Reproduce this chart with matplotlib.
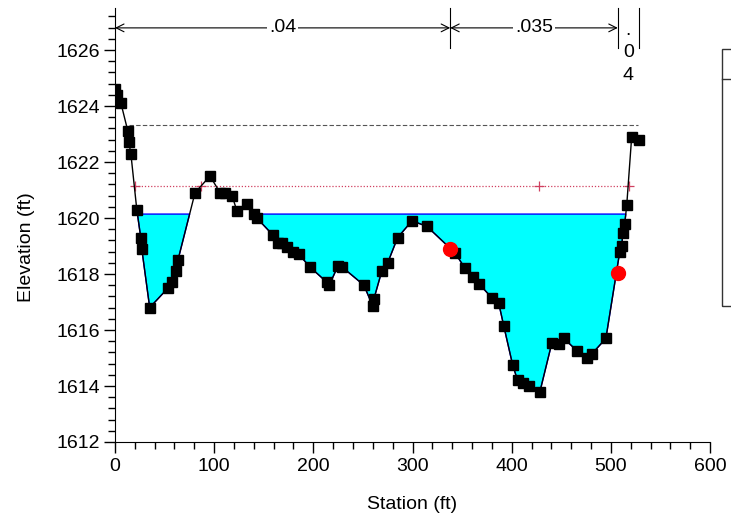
import numpy as np
import matplotlib.pyplot as plt
from matplotlib.patches import Rectangle
from matplotlib.lines import Line2D

plt.rcParams['font.family'] = ['Liberation Sans', 'DejaVu Sans']

# Perfil del terreno (estación, elevación)
estacion = [0, 2, 6, 13, 14, 16, 22, 26, 27, 35, 53.5, 57.5, 61.5, 63.5, 80.7,
            95.8, 106, 111, 118, 123, 133, 140, 143, 159, 164, 168, 173, 179.5,
            185.5, 196.6, 213.8, 216, 225, 229, 251, 260, 261, 269, 275, 285,
            299.5, 314.6, 343, 353, 361, 367, 380, 387, 392, 401, 406, 411,
            417.5, 428.5, 440.6, 447.7, 452.7, 466, 476, 481, 495, 509, 511,
            512, 514, 516, 521, 528]
elevacion = [1624.6, 1624.4, 1624.1, 1623.1, 1622.7, 1622.3, 1620.3, 1619.3,
             1618.9, 1616.8, 1617.5, 1617.7, 1618.1, 1618.5, 1620.9, 1621.5,
             1620.9, 1620.9, 1620.8, 1620.25, 1620.5, 1620.15, 1620.0, 1619.4,
             1619.1, 1619.1, 1618.95, 1618.8, 1618.7, 1618.25, 1617.7, 1617.6,
             1618.3, 1618.25, 1617.6, 1616.85, 1617.1, 1618.1, 1618.4, 1619.3,
             1619.9, 1619.7, 1618.75, 1618.2, 1617.9, 1617.65, 1617.15,
             1616.95, 1616.15, 1614.75, 1614.2, 1614.1, 1614.0, 1613.8,
             1615.55, 1615.5, 1615.7, 1615.25, 1615.0, 1615.15, 1615.7,
             1618.8, 1619.0, 1619.45, 1619.8, 1620.45, 1622.9, 1622.8]

# Estaciones de margen (bank stations)
margen_est = [338, 507]
margen_elev = [1618.9, 1618.05]

ws = 1620.14          # superficie del agua
eg = 1623.32          # línea de energía
eg_rango = [14, 527]
crit = 1621.14        # línea punteada roja
crit_est = [20, 87, 428, 518]

# Coeficientes de Manning
n_limites = [0, 338, 507, 528]
n_valores = ['.04', '.035', '.04']

x = np.array(estacion)
z = np.array(elevacion)

fig = plt.figure(figsize=(7.31, 5.2), dpi=100)
ax = fig.add_axes([0.1573, 0.15, 0.814, 0.8346])

# Agua
ax.fill_between(x, z, ws, where=z < ws, interpolate=True,
                facecolor='#00FFFF', edgecolor='#0000FF', linewidth=1.0, zorder=2)

# Líneas horizontales
ax.plot(eg_rango, [eg, eg], color='#555555', linestyle=(0, (4, 2)), linewidth=0.8, zorder=3)
ax.plot([crit_est[0], crit_est[-1]], [crit, crit], color='#D04060',
        linestyle=(0, (1, 1.5)), linewidth=0.9, zorder=3)
ax.plot(crit_est, [crit] * len(crit_est), linestyle='none', marker='+',
        color='#D04060', markersize=7, markeredgewidth=0.9, zorder=3)

# Terreno
ax.plot(x, z, color='black', linewidth=1.0, marker='s', markersize=6.8, zorder=4)
ax.plot(margen_est, margen_elev, linestyle='none', marker='o', color='#FF0000',
        markersize=10, zorder=5)

ax.set_xlim(0, 600)
ax.set_ylim(1612, 1627.5)
ax.set_xticks(np.arange(0, 601, 100))
ax.set_xticks(np.arange(0, 601, 20), minor=True)
ax.set_yticks(np.arange(1612, 1627, 2))
ax.set_yticks(np.arange(1612, 1627.4, 0.4), minor=True)
ax.tick_params(which='major', length=8, width=1, labelsize=14, direction='out')
ax.tick_params(axis='y', which='major', pad=2.5)
ax.tick_params(which='minor', length=5, width=1, direction='out')
for s in ['top', 'right']:
    ax.spines[s].set_visible(False)

ax.set_xlabel('Station (ft)', fontsize=14, va='center')
ax.xaxis.set_label_coords(0.5, -0.145)
ax.set_ylabel('Elevation (ft)', fontsize=14)
ax.yaxis.set_label_coords(-0.135, 0.45)

# Anotaciones de n de Manning
y_flecha = 1626.79
for i in range(len(n_valores)):
    a, b = n_limites[i], n_limites[i + 1]
    if b - a > 50:
        ax.annotate('', xy=(a, y_flecha), xytext=(b, y_flecha),
                    arrowprops=dict(arrowstyle='<->', color='black', lw=0.8,
                                    shrinkA=0, shrinkB=0, mutation_scale=14))
        ax.text((a + b) / 2, y_flecha, n_valores[i], fontsize=14, ha='center',
                va='center', bbox=dict(facecolor='white', edgecolor='none', pad=1.5),
                zorder=6)
    else:
        # texto vertical, un carácter por línea
        for k, c in enumerate(n_valores[i]):
            ax.text((a + b) / 2, y_flecha - 0.25 - 0.8 * k, c, fontsize=14,
                    ha='center', va='baseline', zorder=6)
for lim in n_limites[1:]:
    ax.plot([lim, lim], [1626.07, 1627.5], color='black', linewidth=0.8, clip_on=False)

# Recuadro de leyenda recortado a la derecha
fig.patches.append(Rectangle((722 / 731, (520 - 306) / 520), 0.1, 257 / 520,
                             transform=fig.transFigure, fill=False,
                             edgecolor='#333333', linewidth=1))
fig.lines.append(Line2D([722 / 731, 1], [(520 - 79) / 520] * 2,
                        transform=fig.transFigure, color='#333333', linewidth=1))

fig.savefig('out.png', dpi=100)
